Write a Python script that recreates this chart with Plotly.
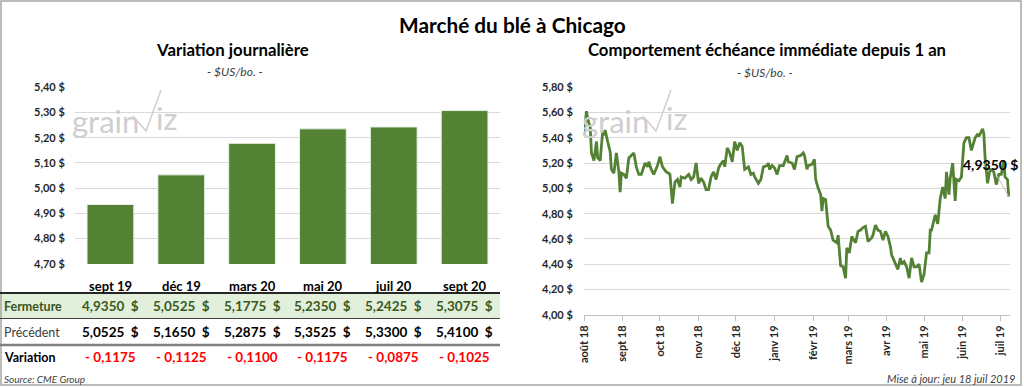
import plotly.graph_objects as go
import pandas as pd

# ---------------- data ----------------
contracts = ["sept 19", "déc 19", "mars 20", "mai 20", "juil 20", "sept 20"]
fermeture = [4.9350, 5.0525, 5.1775, 5.2350, 5.2425, 5.3075]
precedent = [5.0525, 5.1650, 5.2875, 5.3525, 5.3300, 5.4100]
variation = [round(f - p, 4) for f, p in zip(fermeture, precedent)]

left_yticks = [4.70, 4.80, 4.90, 5.00, 5.10, 5.20, 5.30, 5.40]
right_yticks = [4.00, 4.20, 4.40, 4.60, 4.80, 5.00, 5.20, 5.40, 5.60, 5.80]

start_date = "2018-08-01"
days = [
    0, 2, 3, 5, 6, 8, 10, 11, 13, 15,
    16, 17, 19, 21, 22, 24, 26, 28, 29, 30,
    32, 34, 36, 37, 40, 42, 44, 46, 49, 51,
    52, 54, 56, 59, 61, 63, 66, 68, 69, 71,
    73, 75, 77, 78, 81, 84, 86, 88, 90, 92,
    94, 96, 98, 100, 102, 104, 106, 108, 109, 112,
    113, 115, 117, 119, 121, 123, 125, 127, 128, 129,
    132, 134, 136, 137, 140, 142, 144, 147, 148, 149,
    151, 153, 155, 157, 160, 163, 164, 167, 169, 171,
    174, 176, 177, 179, 180, 183, 185, 186, 188, 190,
    191, 192, 194, 196, 198, 200, 203, 204, 206, 208,
    210, 211, 213, 215, 218, 220, 222, 224, 226, 228,
    231, 232, 234, 236, 238, 240, 242, 244, 246, 247,
    248, 250, 252, 254, 255, 257, 259, 261, 263, 265,
    267, 269, 271, 273, 275, 277, 278, 279, 282, 284,
    286, 288, 290, 291, 293, 294, 296, 298, 299, 301,
    303, 305, 307, 309, 311, 314, 316, 317, 320, 321,
    322, 324, 326, 329, 331, 333, 335, 337, 338, 340,
    341]
prices = [
    5.42, 5.61, 5.55, 5.48, 5.28, 5.22, 5.37, 5.24, 5.22, 5.45,
    5.42, 5.46, 5.37, 5.29, 5.15, 5.12, 5.28, 5.13, 4.97, 5.12,
    5.11, 5.08, 5.24, 5.25, 5.28, 5.17, 5.11, 5.11, 5.20, 5.17,
    5.21, 5.15, 5.11, 5.18, 5.25, 5.17, 5.13, 5.12, 5.11, 4.88,
    5.05, 5.07, 5.01, 5.09, 5.08, 5.11, 5.07, 5.09, 5.20, 5.04,
    5.08, 5.05, 4.99, 4.99, 5.09, 5.13, 5.07, 5.16, 5.18, 5.22,
    5.17, 5.32, 5.28, 5.21, 5.37, 5.30, 5.36, 5.33, 5.24, 5.15,
    5.17, 5.11, 5.12, 5.09, 5.04, 5.07, 5.17, 5.18, 5.20, 5.15,
    5.18, 5.16, 5.11, 5.18, 5.18, 5.26, 5.21, 5.20, 5.15, 5.25,
    5.26, 5.28, 5.26, 5.15, 5.18, 5.19, 5.23, 5.07, 5.00, 4.95,
    4.82, 4.92, 4.91, 4.70, 4.67, 4.59, 4.57, 4.63, 4.39, 4.38,
    4.29, 4.53, 4.49, 4.62, 4.57, 4.66, 4.67, 4.69, 4.70, 4.58,
    4.61, 4.63, 4.71, 4.67, 4.66, 4.59, 4.66, 4.62, 4.54, 4.47,
    4.45, 4.40, 4.36, 4.45, 4.40, 4.42, 4.38, 4.29, 4.45, 4.38,
    4.38, 4.40, 4.26, 4.32, 4.49, 4.49, 4.67, 4.67, 4.79, 4.72,
    4.92, 5.01, 4.92, 5.13, 4.95, 5.08, 5.20, 4.90, 5.07, 5.06,
    5.09, 5.36, 5.40, 5.40, 5.30, 5.40, 5.43, 5.41, 5.47, 5.43,
    5.24, 5.04, 5.15, 5.13, 5.03, 5.11, 5.11, 5.22, 5.09, 5.07,
    4.935]
assert len(days) == len(prices)

month_labels = ["août 18", "sept 18", "oct 18", "nov 18", "déc 18", "janv 19",
                "févr 19", "mars 19", "avr 19", "mai 19", "juin 19", "juil 19"]
last_label = "4,9350 $"

# ---------------- helpers ----------------
W, H = 1024, 387
def px(x):
    return x / W
def py(y):
    return 1 - y / H

def fr(v, d=2):
    return f"{v:.{d}f}".replace(".", ",")

dates = pd.to_datetime(start_date) + pd.to_timedelta(days, unit="D")
month_ticks = pd.date_range(start_date, periods=len(month_labels), freq="MS")

GREEN = "#548235"
GRID = "#d9d9d9"
FONT = "Lato"

fig = go.Figure()

fig.add_trace(go.Bar(
    x=contracts, y=fermeture, width=0.66,
    marker=dict(color=GREEN, line=dict(color="#e6efe0", width=1)),
    xaxis="x", yaxis="y", hoverinfo="skip",
))

fig.add_trace(go.Scatter(
    x=dates, y=prices, mode="lines",
    line=dict(color=GREEN, width=2.8),
    xaxis="x2", yaxis="y2", hoverinfo="skip",
))

tickfont = dict(family=FONT, size=11, color="#262626")

fig.update_layout(
    width=W, height=H, autosize=False,
    margin=dict(l=0, r=0, t=0, b=0, pad=0, autoexpand=False),
    paper_bgcolor="white", plot_bgcolor="white",
    showlegend=False,
    font=dict(family=FONT),
    xaxis=dict(domain=[px(75), px(500)], type="category", showticklabels=False,
               showgrid=False, showline=False, ticks="", fixedrange=True,
               automargin=False),
    yaxis=dict(domain=[py(264), py(87)], range=[4.699, 5.401],
               tickvals=left_yticks, ticktext=[f"<b>{fr(v)} $</b>" for v in left_yticks],
               tickfont=tickfont, showgrid=True, gridcolor=GRID, gridwidth=1,
               zeroline=False, showline=False, ticks="outside", ticklen=7,
               tickcolor="rgba(0,0,0,0)", automargin=False),
    xaxis2=dict(domain=[px(584), px(1010)], type="date",
                range=[start_date, "2019-07-09"],
                tickvals=month_ticks, ticktext=[f"<b>{m}</b>" for m in month_labels],
                tickangle=-90, tickfont=tickfont, showgrid=False,
                showline=True, linecolor="#bfbfbf", linewidth=1,
                ticks="outside", ticklen=5, tickcolor="#bfbfbf",
                anchor="y2", automargin=False),
    yaxis2=dict(domain=[py(315), py(87)], range=[3.999, 5.801], anchor="x2",
                tickvals=right_yticks, ticktext=[f"<b>{fr(v)} $</b>" for v in right_yticks],
                tickfont=tickfont, showgrid=True, gridcolor=GRID, gridwidth=1,
                zeroline=False, showline=False, ticks="outside", ticklen=8,
                tickcolor="rgba(0,0,0,0)", automargin=False),
)

ann = []
def A(x, y, text, size, color="#000000", xanchor="center", xref="paper", yref="paper", **kw):
    ann.append(dict(x=x, y=y, xref=xref, yref=yref, text=text, showarrow=False,
                    xanchor=xanchor, yanchor="middle",
                    font=dict(family=FONT, size=size, color=color), **kw))

# titles
A(px(512), py(24), "<b>Marché du blé à Chicago</b>", 20.8)
A(px(232), py(50), "<b>Variation journalière</b>", 16.8)
A(px(235), py(71), "<i>- $US/bo. -</i>", 12, "#404040")
A(px(767), py(50), "<b>Comportement échéance immédiate depuis 1 an</b>", 16.7)
A(px(765), py(72), "<i>- $US/bo. -</i>", 12, "#404040")

# watermarks
for dx in (0, -510):
    A(px(580 + dx), py(121), "grain", 31, "#cfcfcf", xanchor="left")
    A(px(664 + dx), py(118), "iz", 31, "#cfcfcf", xanchor="left")

# table
A(px(2), py(306), "<b>Fermeture</b>", 12.5, "#375623", xanchor="left")
A(px(2), py(332), "Précédent", 12.5, "#404040", xanchor="left")
A(px(2), py(357), "<b>Variation</b>", 12.5, "#000000", xanchor="left")
for c, f, p, v in zip(contracts, fermeture, precedent, variation):
    A(c, py(286), f"<b>{c}</b>", 13, xref="x")
    A(c, py(306), f"<b>{fr(f, 4)}\u00a0\u00a0$</b>", 13.5, "#3a5a1e", xref="x")
    A(c, py(332), f"<b>{fr(p, 4)}\u00a0\u00a0$</b>", 13.5, "#000000", xref="x")
    A(c, py(357), f"<b>- {fr(abs(v), 4)}</b>", 13.5, "#ff0000", xref="x")

A(px(2), py(379), "<i>Source: CME Group</i>", 10, "#404040", xanchor="left")
A(px(1017), py(378), "<i>Mise à jour: jeu 18 juil 2019</i>", 11, "#404040", xanchor="right")

# last value label
ann.append(dict(x=dates[-1], y=prices[-1], xref="x2", yref="y2",
                text=f"<b>{last_label}</b>", showarrow=True, arrowhead=0,
                arrowwidth=1, arrowcolor="#bfbfbf", ax=-18, ay=-32,
                font=dict(family=FONT, size=14, color="#000000")))

fig.update_layout(annotations=ann)

shapes = [
    # outer border
    dict(type="rect", xref="paper", yref="paper", x0=px(1), y0=py(385), x1=px(1021), y1=py(1),
         line=dict(color="#a6a6a6", width=1.5)),
    # fermeture row background
    dict(type="rect", xref="paper", yref="paper", x0=px(0), y0=py(318), x1=px(500), y1=py(293),
         fillcolor="#e2efda", line=dict(width=0), layer="below"),
    dict(type="line", xref="paper", yref="paper", x0=px(0), y0=py(293), x1=px(500), y1=py(293),
         line=dict(color="#262626", width=2)),
    dict(type="line", xref="paper", yref="paper", x0=px(0), y0=py(318.5), x1=px(500), y1=py(318.5),
         line=dict(color="#404040", width=1)),
    dict(type="line", xref="paper", yref="paper", x0=px(0), y0=py(345), x1=px(500), y1=py(345),
         line=dict(color="#808080", width=2.5)),
]
# watermark check strokes
for dx in (0, -510):
    shapes.append(dict(type="path", xref="paper", yref="paper",
                       path=f"M {px(643+dx)},{py(116)} L {px(656+dx)},{py(131)} L {px(671+dx)},{py(90)}",
                       line=dict(color="#cfcfcf", width=1.5)))
fig.update_layout(shapes=shapes)

fig.write_html("out.html", config={"displayModeBar": False},
               post_script="document.body.style.margin='0px';document.body.style.overflow='hidden';")
